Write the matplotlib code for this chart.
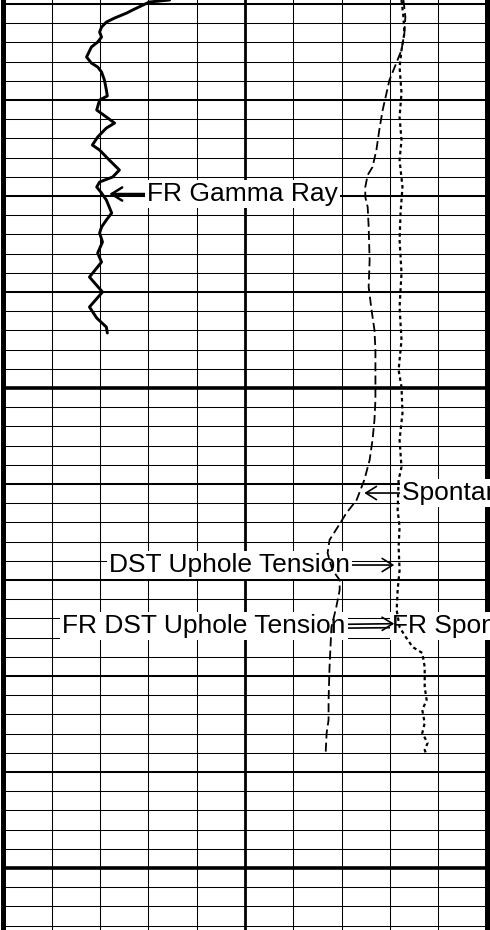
import numpy as np
import matplotlib
matplotlib.use("Agg")
import matplotlib.pyplot as plt

# --- curve data (track scale 0-100, depth in ft) ---

gr_depth = [4609.58, 4609.79, 4610.63, 4610.94, 4611.46, 4611.88, 4612.40, 4612.92,
            4613.44, 4613.96, 4614.48, 4615.52, 4616.15, 4616.56, 4617.08, 4617.92,
            4618.96, 4619.58, 4620.00, 4621.04, 4621.77, 4622.40, 4622.92, 4623.85,
            4624.69, 4625.21, 4626.25, 4627.29, 4628.02, 4628.54, 4629.06, 4629.69,
            4630.42, 4631.77, 4632.50, 4633.23, 4633.85, 4634.79, 4635.94, 4636.88,
            4638.44, 4640.00, 4641.56, 4642.71, 4643.65, 4644.27]
gr_value = [34.4, 30.2, 26.7, 25.5, 23.0, 21.3, 20.3, 19.9,
            20.3, 19.5, 18.2, 17.2, 18.2, 19.5, 20.3, 20.9,
            21.3, 21.5, 19.9, 19.3, 21.3, 23.0, 21.3, 19.5,
            18.4, 19.9, 21.9, 24.0, 22.6, 19.9, 19.3, 20.3,
            21.3, 22.4, 21.3, 20.3, 19.9, 20.5, 19.5, 20.3,
            17.8, 20.5, 17.8, 19.3, 21.3, 21.5]

sp_depth = [4609.58, 4611.35, 4613.02, 4614.79, 4616.56, 4617.92, 4619.27, 4621.04,
            4623.13, 4625.21, 4626.98, 4627.81, 4629.06, 4630.10, 4631.15, 4633.23,
            4636.67, 4639.48, 4641.88, 4643.96, 4646.04, 4649.17, 4651.25, 4653.33,
            4655.42, 4657.50, 4659.58, 4661.67, 4663.02, 4664.48, 4665.83, 4667.19,
            4668.96, 4670.00, 4671.04, 4672.81, 4674.90, 4676.98, 4679.06, 4682.50,
            4684.58, 4685.94, 4688.02]
sp_value = [82.8, 83.2, 83.0, 82.4, 81.0, 79.9, 79.3, 78.5,
            77.8, 77.2, 76.4, 75.4, 74.9, 74.9, 75.4, 75.6,
            75.8, 75.6, 76.2, 76.8, 77.0, 77.0, 77.0, 76.8,
            76.4, 75.8, 74.7, 73.1, 71.0, 69.2, 67.5, 67.1,
            68.1, 69.6, 69.6, 68.9, 67.9, 67.7, 67.5, 67.3,
            67.3, 66.9, 66.7]

ten_depth = [4609.58, 4611.35, 4613.02, 4614.79, 4616.56, 4619.27, 4621.77, 4624.17,
             4626.25, 4629.06, 4631.77, 4634.58, 4638.02, 4641.56, 4645.00, 4648.13,
             4649.90, 4652.60, 4655.42, 4658.23, 4659.58, 4662.71, 4664.48, 4666.56,
             4668.96, 4671.04, 4673.13, 4674.90, 4675.73, 4676.98, 4677.60, 4679.06,
             4681.15, 4682.50, 4683.54, 4684.90, 4685.94, 4686.98, 4687.71, 4688.23]
ten_value = [82.4, 82.8, 83.0, 82.4, 82.0, 82.4, 82.0, 82.4,
             82.0, 82.6, 82.2, 82.0, 82.4, 82.0, 82.4, 81.8,
             82.4, 82.6, 82.0, 82.4, 81.8, 81.6, 82.0, 81.8,
             82.0, 81.6, 81.4, 82.0, 83.0, 84.7, 86.7, 87.2,
             87.2, 87.6, 86.7, 87.2, 86.7, 87.8, 87.2, 87.6]

# --- figure / track ---

fig = plt.figure(figsize=(4.9, 9.3), dpi=100, facecolor="white")
ax = fig.add_axes([0, 0, 1, 1])
ax.set_xlim(-0.72, 100.72)
ax.set_ylim(4706.46, 4609.58)
ax.set_axis_off()

# depth grid: 2 ft minor, 10 ft medium, 50 ft heavy
ax.hlines(np.arange(4600, 4712, 2), 0, 100, color="black", lw=0.75, zorder=1)
ax.hlines(np.arange(4600, 4712, 10), 0, 100, color="black", lw=1.45, zorder=1)
ax.hlines(np.arange(4600, 4712, 50), 0, 100, color="black", lw=2.6, zorder=1)

# track divisions
ax.vlines(np.arange(10, 100, 10), 4600, 4712, color="black", lw=0.75, zorder=1)
ax.vlines([50], 4600, 4712, color="black", lw=2.0, zorder=1)
ax.vlines([0, 100], 4600, 4712, color="black", lw=3.6, zorder=1)

# --- labels ---
box = dict(boxstyle="square,pad=0.08", fc="white", ec="none")


def label(text, tip_x, tip_d, text_x, text_d, side, lw=1.2, rel_y=0.5, z=5):
    ha_pos = 0 if side == "left" else 1
    ax.annotate(text, xy=(tip_x, tip_d), xytext=(text_x, text_d),
                ha="left", va="center", family="Liberation Sans", fontsize=19,
                bbox=box, zorder=z,
                arrowprops=dict(arrowstyle="->,head_length=0.4,head_width=0.25",
                                lw=lw, color="black", shrinkA=0, shrinkB=0,
                                relpos=(ha_pos, rel_y)))


label("FR Gamma Ray", 21.9, 4629.79, 29.8, 4629.79, "left", lw=1.8)
label("Spontaneous Potential", 74.7, 4660.94, 82.6, 4660.94, "left")
label("DST Uphole Tension", 80.9, 4668.44, 21.9, 4668.44, "right")
# the FR DST box is drawn over the head of this arrow
label("FR Spontaneous Potential", 67.5, 4675.03, 80.5, 4674.79, "left",
      rel_y=0.43, z=5)
label("FR DST Uphole Tension", 80.9, 4674.55, 12.2, 4674.79, "right",
      rel_y=0.57, z=6)

# --- curves ---
ax.plot(gr_value, gr_depth, color="black", lw=2.1, zorder=8,
        solid_joinstyle="round", solid_capstyle="round")
ax.plot(sp_value, sp_depth, color="black", lw=1.3, ls=(0, (5, 2.3)), zorder=8)
ax.plot(ten_value, ten_depth, color="black", lw=1.6, ls=(0, (1.6, 1.5)), zorder=8)

fig.savefig("out.png", dpi=100, facecolor="white")
